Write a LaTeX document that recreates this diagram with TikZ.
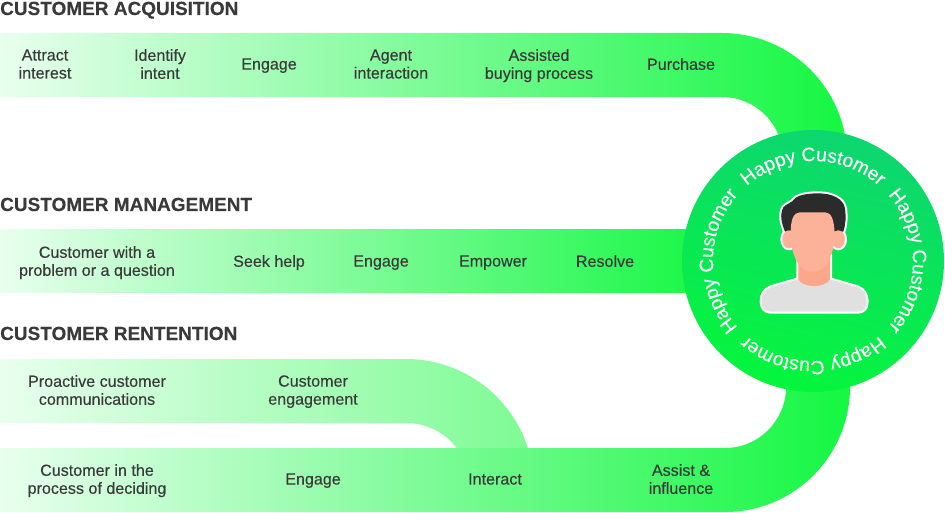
\documentclass[tikz,border=0pt]{standalone}
\usepackage{fontspec}
\setmainfont{Liberation Sans}
\newfontfamily\lblfont[FakeBold=0.3]{Liberation Sans}
\newfontfamily\hfont[FakeBold=0.1]{Liberation Sans Bold}
\newfontfamily\cfont[FakeBold=0.1]{Liberation Sans}
\newcommand{\hcfont}{\cfont\fontsize{19.3}{21}\selectfont\color{white}}
\newcommand{\st}{\rule[-4pt]{0pt}{14pt}}
\usetikzlibrary{decorations.text}
\definecolor{txt}{HTML}{3A3A3A}
\definecolor{gl}{HTML}{E8FFEE}
\definecolor{gc}{HTML}{A2FCB2}
\definecolor{gr}{HTML}{14F742}
\definecolor{rc}{HTML}{C2FDCD}
\definecolor{rr}{HTML}{7EFB94}
\definecolor{circa}{HTML}{0DD670}
\definecolor{circb}{HTML}{05F63C}
\definecolor{shirtc}{HTML}{E0E0E0}
\definecolor{neckc}{HTML}{FCA68A}
\definecolor{facec}{HTML}{FCB299}
\definecolor{hairc}{HTML}{2B2B2B}
\tikzset{
  lbl/.style={align=center,font=\lblfont\fontsize{16.1}{18}\selectfont,text=txt,inner sep=0pt},
  head/.style={anchor=base west,font=\hfont\fontsize{19}{22}\selectfont,text=txt,inner sep=0pt},
  hc/.style={decorate,decoration={text along path,text align=center,text={|\hcfont|Happy Customer}}},
  halo/.style={draw=white,line width=4pt,line join=round},
  band/.style={left color=gl,middle color=gc,right color=gr}
}
\begin{document}
\begin{tikzpicture}[x=1pt,y=1pt]
\useasboundingbox (0,0) rectangle (945,512);
% bands
\path[band] (0,479) -- (722,479) arc[start angle=90,end angle=0,radius=125pt] -- (783,354) arc[start angle=0,end angle=90,radius=61pt] -- (0,415) -- cycle;
\path[band] (0,282) rectangle (720,219);
\path[left color=gl,middle color=rc,right color=rr] (0,153) -- (406,153) arc[start angle=90,end angle=17.74,radius=128pt] -- (456.8,64) arc[start angle=37.5,end angle=90,radius=64pt] -- (0,89) -- cycle;
\path[band] (0,0) -- (725,0) arc[start angle=-90,end angle=0,radius=125pt] -- (786,125) arc[start angle=0,end angle=-90,radius=61pt] -- (0,64) -- cycle;
% circle
\shade[top color=circa,bottom color=circb,shading angle=-15] (813,251) circle[radius=131pt];
% person
\begin{scope}[x=0.3333pt,y=-0.3333pt,xshift=750pt,yshift=332pt]
\def\shirt{(145,298) -- (62,322) .. controls (42,330) and (35,345) .. (35,365) .. controls (35,385) and (47,395) .. (62,395) -- (323,395) .. controls (340,395) and (350,385) .. (350,365) .. controls (350,345) and (342,330) .. (323,322) -- (240,298) -- cycle}
\def\neckp{(145,225) -- (145,298) .. controls (160,325) and (225,325) .. (240,298) -- (240,225) -- cycle}
\def\hair{(105,155) .. controls (95,130) and (88,105) .. (100,82) .. controls (110,70) and (125,70) .. (135,55) .. controls (150,42) and (185,40) .. (205,40) .. controls (245,40) and (280,55) .. (285,85) .. controls (288,110) and (288,130) .. (280,155) -- cycle}
\def\facep{(122,160) .. controls (122,120) and (130,97) .. (150,97) -- (225,97) .. controls (245,97) and (252,120) .. (254,160) .. controls (254,200) and (245,225) .. (232,250) .. controls (220,270) and (205,275) .. (190,275) .. controls (170,275) and (155,268) .. (143,250) .. controls (130,225) and (122,200) .. (122,160) -- cycle}
\draw[halo] \shirt;
\draw[halo] \neckp;
\draw[halo] \hair;
\draw[halo] (117,178) ellipse[x radius=20,y radius=27];
\draw[halo] (265,178) ellipse[x radius=20,y radius=27];
\fill[shirtc] \shirt;
\fill[neckc] \neckp;
\fill[hairc] \hair;
\fill[facec] (117,178) ellipse[x radius=20,y radius=27];
\fill[facec] (265,178) ellipse[x radius=20,y radius=27];
\fill[facec] \facep;
\end{scope}
% circular text
\path[hc] (813,251) ++(145:100pt) arc[start angle=145,end angle=35,radius=100pt];
\path[hc] (813,251) ++(55:100pt) arc[start angle=55,end angle=-55,radius=100pt];
\path[hc] (813,251) ++(-35:100pt) arc[start angle=-35,end angle=-145,radius=100pt];
\path[hc] (813,251) ++(-125:100pt) arc[start angle=-125,end angle=-235,radius=100pt];
% headings
\node[head] (h1) at (0,497) {CUSTOMER ACQUISITION};
\node[head] (h2) at (0,301) {CUSTOMER MANAGEMENT};
\node[head] (h3) at (0,172) {CUSTOMER RENTENTION};
% labels
\node[lbl] (a1) at (45,446) {\st Attract\\\st interest};
\node[lbl] (a2) at (160,446) {\st Identify\\\st intent};
\node[lbl] (a3) at (269,446) {\st Engage};
\node[lbl] (a4) at (391,446) {\st Agent\\\st interaction};
\node[lbl] (a5) at (539,446) {\st Assisted\\\st buying process};
\node[lbl] (a6) at (681,446) {\st Purchase};
\node[lbl] (m1) at (97,249) {\st Customer with a\\\st problem or a question};
\node[lbl] (m2) at (269,249) {\st Seek help};
\node[lbl] (m3) at (381,249) {\st Engage};
\node[lbl] (m4) at (493,249) {\st Empower};
\node[lbl] (m5) at (605,249) {\st Resolve};
\node[lbl] (r1) at (97,120) {\st Proactive customer\\\st communications};
\node[lbl] (r2) at (313,120) {\st Customer\\\st engagement};
\node[lbl] (r3) at (97,31) {\st Customer in the\\\st process of deciding};
\node[lbl] (r4) at (313,31) {\st Engage};
\node[lbl] (r5) at (495,31) {\st Interact};
\node[lbl] (r6) at (681,31) {\st Assist \&\\\st influence};
\end{tikzpicture}
\end{document}
